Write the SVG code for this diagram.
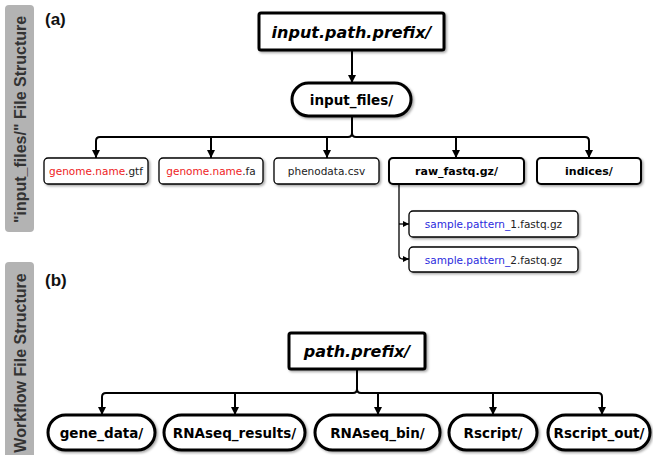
<svg xmlns="http://www.w3.org/2000/svg" width="653" height="455" viewBox="0 0 653 455">
<style>
.bar{fill:#b3b3b3}
.side{font-family:"Liberation Sans",Arial,sans-serif;font-weight:bold;font-size:16px;fill:#333;text-anchor:middle}
.lab{font-family:"Liberation Sans",Arial,sans-serif;font-weight:bold;font-size:17px;fill:#111}
.box{fill:#fff;stroke:#000;filter:url(#sh)}
.thick{stroke-width:3}
.med{stroke-width:2}
.thin{stroke-width:1.3}
.ti{font-family:"DejaVu Sans",Verdana,sans-serif;font-weight:bold;font-style:italic;font-size:16px;text-anchor:middle;fill:#000}
.tb{font-family:"DejaVu Sans",Verdana,sans-serif;font-weight:bold;font-size:13.5px;text-anchor:middle;fill:#000}
.ts{font-family:"DejaVu Sans",Verdana,sans-serif;font-weight:bold;font-size:11px;text-anchor:middle;fill:#000}
.tn{font-family:"DejaVu Sans",Verdana,sans-serif;font-size:10.5px;text-anchor:middle;fill:#222}
.red{fill:#ee1c24}
.blue{fill:#2b2bdd}
.con{fill:none;stroke:#000;stroke-width:2}
.cthin{fill:none;stroke:#000;stroke-width:1.3}
</style>
<defs>
<filter id="sh" x="-10%" y="-20%" width="130%" height="160%">
<feDropShadow dx="1.5" dy="1.5" stdDeviation="1" flood-color="#000" flood-opacity="0.35"/>
</filter>
<marker id="ar" viewBox="0 0 10 10" refX="10" refY="5" markerWidth="4" markerHeight="4" orient="auto" markerUnits="strokeWidth">
<path d="M0,0 L10,5 L0,10 z" fill="#000"/>
</marker>
<marker id="ars" viewBox="0 0 10 10" refX="10" refY="5" markerWidth="5" markerHeight="5" orient="auto" markerUnits="strokeWidth">
<path d="M0,0 L10,5 L0,10 z" fill="#000"/>
</marker>
</defs>
<rect width="653" height="455" fill="#fff"/>

<g id="side-a">
<rect class="bar" x="5" y="5" width="29" height="227" rx="4"/>
<text class="side" transform="translate(26,119.5) rotate(-90)">"input_files/" File Structure</text>
</g>
<g id="side-b">
<rect class="bar" x="5" y="262" width="29" height="200" rx="4"/>
<text class="side" transform="translate(26,363) rotate(-90)">Workflow File Structure</text>
</g>
<text class="lab" x="45" y="25">(a)</text>
<text class="lab" x="45" y="286">(b)</text>

<g id="connectors">
<line class="con" x1="352" y1="51" x2="352" y2="83" marker-end="url(#ar)"/>
<path class="con" d="M352,117 V133 Q352,137 348,137 H100 Q96,137 96,141 V158" marker-end="url(#ar)"/>
<path class="con" d="M352,133 Q352,137 356,137 H585 Q589,137 589,141 V158" marker-end="url(#ar)"/>
<path class="con" d="M211,137 Q211,137 211,141 V158" marker-end="url(#ar)"/>
<path class="con" d="M327,137 V158" marker-end="url(#ar)"/>
<path class="con" d="M456,137 V158" marker-end="url(#ar)"/>
<path class="cthin" d="M399,185 V255 Q399,259 403,259 H409" marker-end="url(#ars)"/>
<path class="cthin" d="M399,224 H409" marker-end="url(#ars)"/>
<path class="con" d="M357,370 V389 Q357,393 353,393 H106 Q102,393 102,397 V415" marker-end="url(#ar)"/>
<path class="con" d="M357,389 Q357,393 361,393 H598 Q602,393 602,397 V415" marker-end="url(#ar)"/>
<path class="con" d="M235,393 V415" marker-end="url(#ar)"/>
<path class="con" d="M378,393 V415" marker-end="url(#ar)"/>
<path class="con" d="M493,393 V415" marker-end="url(#ar)"/>
</g>

<g id="input-path-prefix">
<rect class="box thick" x="259" y="13" width="185" height="37" rx="2"/>
<text class="ti" x="351.5" y="37.5">input.path.prefix/</text>
</g>
<g id="input-files">
<rect class="box thick" x="292" y="83" width="119" height="33" rx="16.5"/>
<text class="tb" x="351.5" y="104.5">input_files/</text>
</g>
<g id="gtf">
<rect class="box thin" x="44" y="158" width="104" height="26" rx="4"/>
<text class="tn" x="96" y="175"><tspan class="red">genome.name</tspan>.gtf</text>
</g>
<g id="fa">
<rect class="box thin" x="159" y="158" width="104" height="26" rx="4"/>
<text class="tn" x="211" y="175"><tspan class="red">genome.name</tspan>.fa</text>
</g>
<g id="pheno">
<rect class="box thin" x="274" y="158" width="105" height="26" rx="4"/>
<text class="tn" x="326.5" y="175">phenodata.csv</text>
</g>
<g id="raw-fastq">
<rect class="box med" x="389" y="158" width="135" height="26" rx="4"/>
<text class="ts" x="456.5" y="175">raw_fastq.gz/</text>
</g>
<g id="indices">
<rect class="box med" x="537" y="158" width="104" height="26" rx="4"/>
<text class="ts" x="589" y="175">indices/</text>
</g>
<g id="sample1">
<rect class="box thin" x="409" y="211" width="169" height="26" rx="4"/>
<text class="tn" x="493.5" y="228"><tspan class="blue">sample.pattern_</tspan>1.fastq.gz</text>
</g>
<g id="sample2">
<rect class="box thin" x="409" y="247" width="169" height="25" rx="4"/>
<text class="tn" x="493.5" y="263.5"><tspan class="blue">sample.pattern_</tspan>2.fastq.gz</text>
</g>

<g id="path-prefix">
<rect class="box thick" x="289" y="333" width="136" height="36" rx="2"/>
<text class="ti" x="357" y="357">path.prefix/</text>
</g>
<g id="gene-data">
<rect class="box thick" x="48" y="415" width="107" height="35" rx="17.5"/>
<text class="tb" x="101.5" y="437.5">gene_data/</text>
</g>
<g id="rnaseq-results">
<rect class="box thick" x="164" y="415" width="141" height="35" rx="17.5"/>
<text class="tb" x="234.5" y="437.5">RNAseq_results/</text>
</g>
<g id="rnaseq-bin">
<rect class="box thick" x="315" y="415" width="125" height="35" rx="17.5"/>
<text class="tb" x="377.5" y="437.5">RNAseq_bin/</text>
</g>
<g id="rscript">
<rect class="box thick" x="449" y="415" width="88" height="35" rx="17.5"/>
<text class="tb" x="493" y="437.5">Rscript/</text>
</g>
<g id="rscript-out">
<rect class="box thick" x="548" y="415" width="102" height="35" rx="17.5"/>
<text class="tb" x="599" y="437.5">Rscript_out/</text>
</g>
</svg>
